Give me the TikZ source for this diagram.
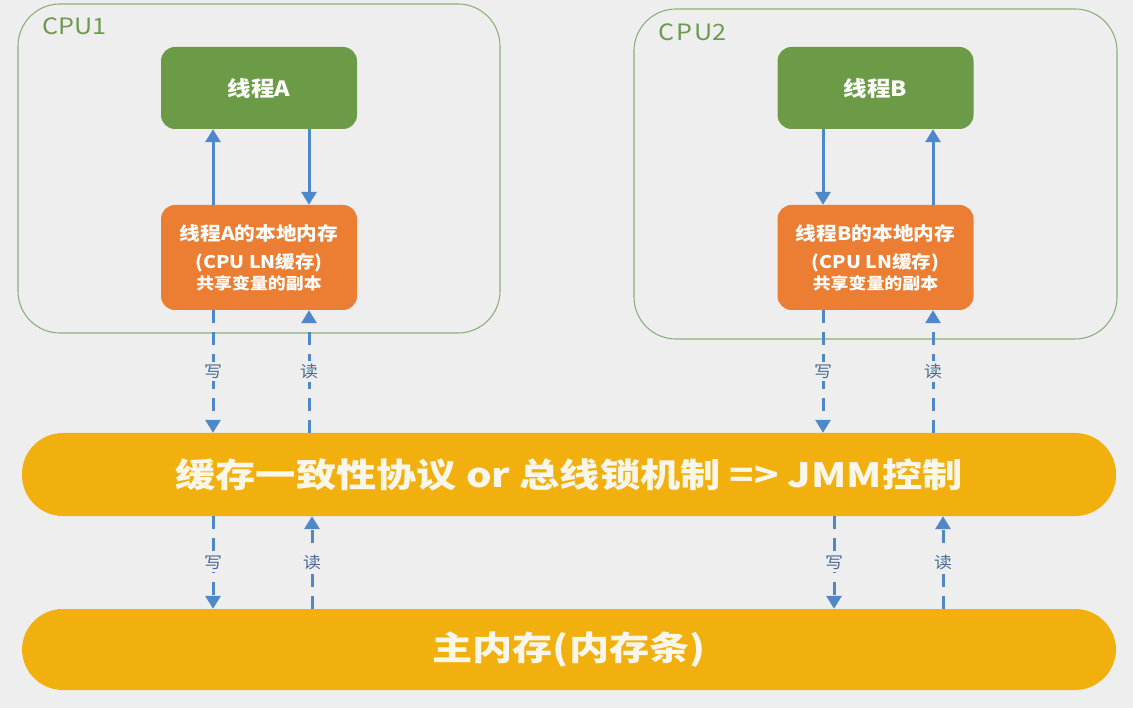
\documentclass[tikz,border=0pt]{standalone}
\usepackage{fontspec}
\setmainfont{Noto Sans CJK SC}[FakeStretch=1.12]
\newfontfamily\busfont{Noto Sans CJK SC}[FakeStretch=1.2]
\usetikzlibrary{arrows.meta}
\definecolor{bg}{HTML}{EEEEEE}
\definecolor{cpuline}{HTML}{8DB07A}
\definecolor{cputext}{HTML}{6E9A50}
\definecolor{thgreen}{HTML}{6C9B48}
\definecolor{memorange}{HTML}{EB7E33}
\definecolor{busyellow}{HTML}{F1B00D}
\definecolor{arrblue}{HTML}{4E88C8}
\definecolor{labtext}{HTML}{4A6A94}
\definecolor{bustext}{HTML}{FBF6EA}
\tikzset{
  cpubox/.style={draw=cpuline, line width=1.1pt, rounded corners=42pt, inner sep=0pt},
  cpulab/.style={text=cputext, font=\fontsize{22.5}{24}\selectfont, inner sep=0pt, anchor=base west},
  threadbox/.style={fill=thgreen, rounded corners=14pt, minimum width=196pt, minimum height=82pt, text=white, font=\bfseries\fontsize{21}{24}\selectfont},
  localbox/.style={fill=memorange, rounded corners=14pt, minimum width=196pt, minimum height=105pt, text=white, align=center, font=\bfseries\fontsize{18.5}{25}\selectfont},
  busbox/.style={fill=busyellow, rounded corners=41pt, minimum width=1094pt, text=bustext, font=\busfont\bfseries\fontsize{33.5}{40}\selectfont},
  arr/.style={draw=arrblue, line width=3pt, -{Triangle[width=15pt,length=13pt]}},
  darr/.style={arr, dash pattern=on 13pt off 9pt},
  lab/.style={fill=bg, text=labtext, inner sep=3pt, font=\fontsize{16}{18}\selectfont}
}
\begin{document}
\begin{tikzpicture}[x=1pt,y=-1pt]
\useasboundingbox[fill=bg] (0,0) rectangle (1133,708);
% CPU frames
\node[cpubox, minimum width=482pt, minimum height=329pt] (cpu1) at (259,168.5) {};
\node[cpubox, minimum width=483pt, minimum height=330pt] (cpu2) at (875.5,174) {};
\node[cpulab] (cpu1lab) at (42,35) {CPU1};
\node[cpulab] (cpu2lab) at (658,41) {C\kern2pt P\kern2pt U2};
% threads
\node[threadbox] (ta) at (259,88) {线程A};
\node[threadbox] (tb) at (875.5,88) {线程B};
% local memories
\node[localbox] (oa) at (259,257.5) {线程A的本地内存\\[3pt]{\fontsize{17.5}{20}\selectfont (CPU LN缓存)}\\[-4pt]{\fontsize{16}{20}\selectfont 共享变量的副本}};
\node[localbox] (ob) at (875.5,257.5) {线程B的本地内存\\[3pt]{\fontsize{17.5}{20}\selectfont (CPU LN缓存)}\\[-4pt]{\fontsize{16}{20}\selectfont 共享变量的副本}};
% buses
\node[busbox, minimum height=83pt] (bus1) at (569,474.5) {缓存一致性协议 or 总线锁机制 => JMM控制};
\node[busbox, minimum height=81pt] (bus2) at (569,649.5) {主内存(内存条)};
% thread <-> local memory
\draw[arr] ([xshift=-46]oa.north) -- ([xshift=-46]ta.south);
\draw[arr] ([xshift=50]ta.south) -- ([xshift=50]oa.north);
\draw[arr] ([xshift=-52.5]tb.south) -- ([xshift=-52.5]ob.north);
\draw[arr] ([xshift=57.5]ob.north) -- ([xshift=57.5]tb.south);
% local memory <-> bus1
\draw[darr] ([xshift=-46]oa.south) -- node[lab]{写} ([xshift=-46]oa.south |- bus1.north);
\draw[darr] ([xshift=50]oa.south |- bus1.north) -- node[lab]{读} ([xshift=50]oa.south);
\draw[darr] ([xshift=-52.5]ob.south) -- node[lab]{写} ([xshift=-52.5]ob.south |- bus1.north);
\draw[darr] ([xshift=57.5]ob.south |- bus1.north) -- node[lab]{读} ([xshift=57.5]ob.south);
% bus1 <-> bus2
\draw[darr] ([xshift=-46]oa.south |- bus1.south) -- node[lab]{写} ([xshift=-46]oa.south |- bus2.north);
\draw[darr] ([xshift=53]oa.south |- bus2.north) -- node[lab]{读} ([xshift=53]oa.south |- bus1.south);
\draw[darr] ([xshift=-41.5]ob.south |- bus1.south) -- node[lab]{写} ([xshift=-41.5]ob.south |- bus2.north);
\draw[darr] ([xshift=67.5]ob.south |- bus2.north) -- node[lab]{读} ([xshift=67.5]ob.south |- bus1.south);
\end{tikzpicture}
\end{document}
